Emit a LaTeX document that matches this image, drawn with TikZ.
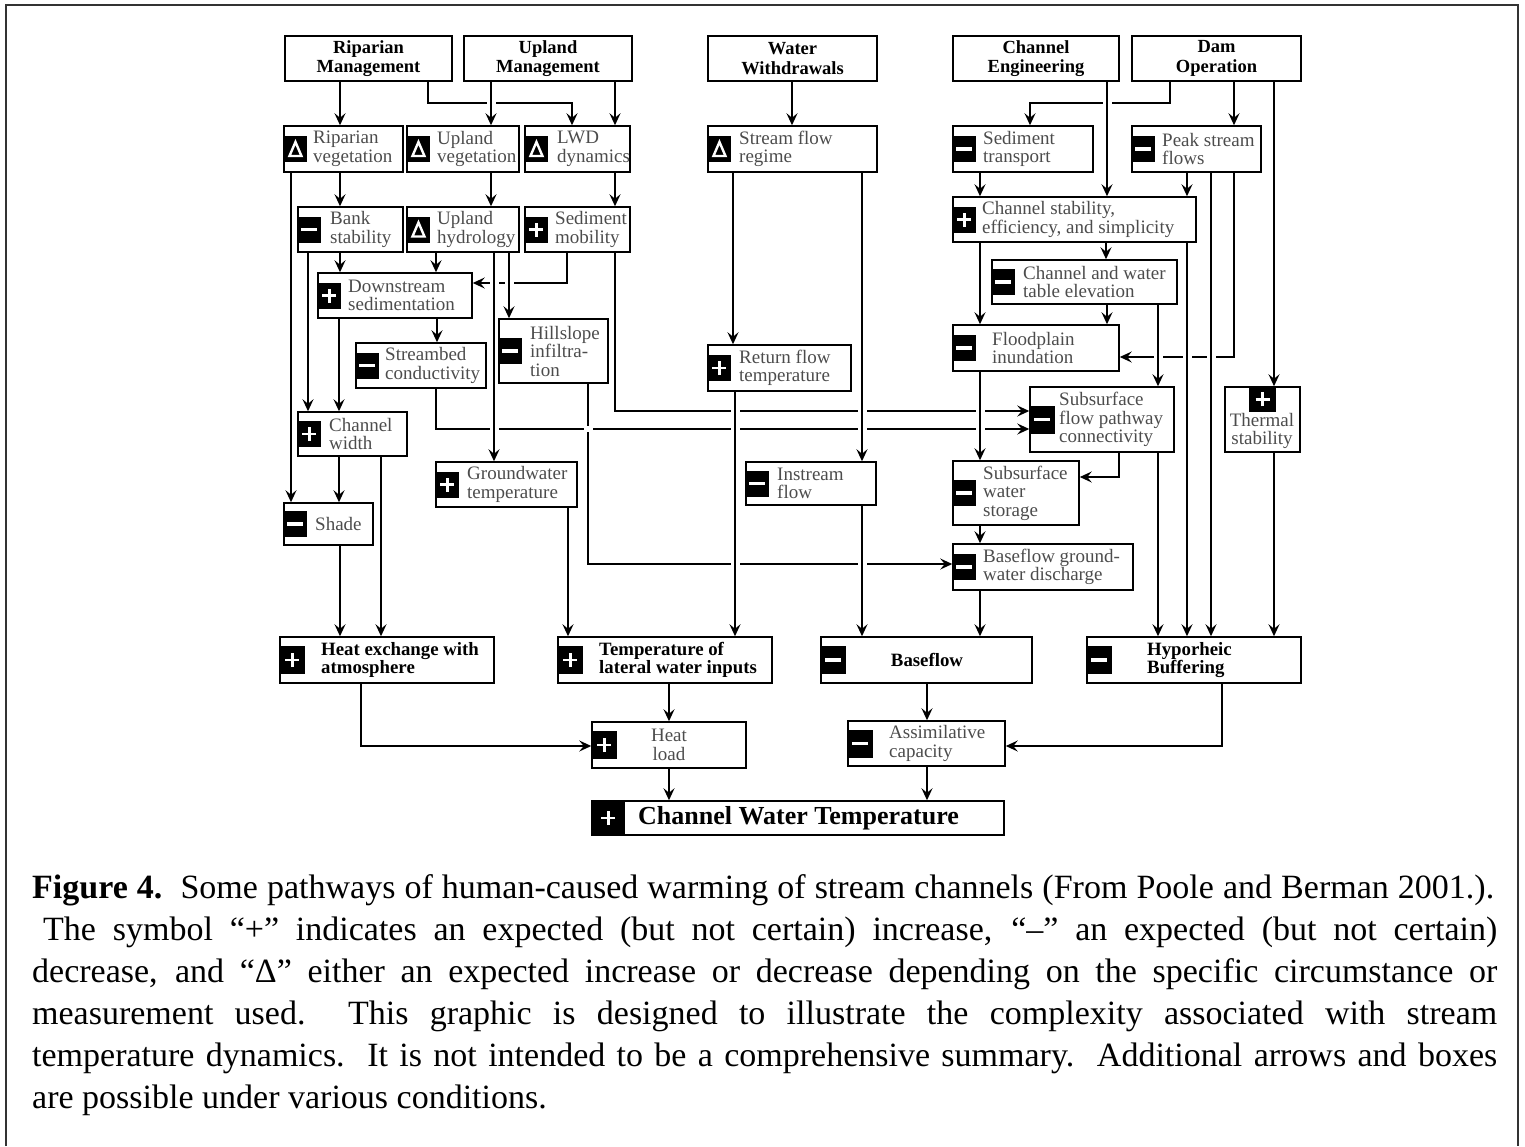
\documentclass[tikz,border=0pt]{standalone}
\usepackage{fontspec}
\setmainfont{Liberation Serif}
\usetikzlibrary{arrows.meta,fit}
\newcommand\bx[5]{\node[box, fit={(#2,#3) (#4,#5)}] (#1) {};}
\newcommand\vconn[3]{\draw[arr] (#1.south -| #3,0) -- (#2.north -| #3,0);}
\newcommand\xgap[2]{\fill[white] ({#1-4.5},{#2-3.2}) rectangle ({#1+4.5},{#2+3.2});}
\tikzset{
  box/.style={draw, line width=1.5pt, inner sep=0pt, rectangle},
  arr/.style={line width=1.5pt, -{Stealth[length=12pt,width=11pt,inset=4.5pt]}},
  ttop/.style={font=\fontsize{18.5}{19.5}\selectfont\bfseries, align=center, inner sep=0pt},
  tmid/.style={font=\fontsize{19}{18.5}\selectfont, text=black!70, align=left, inner sep=0pt, anchor=west},
  tmidc/.style={font=\fontsize{19}{18.5}\selectfont, text=black!70, align=center, inner sep=0pt},
  tbot/.style={font=\fontsize{18.8}{17.5}\selectfont\bfseries, align=left, inner sep=0pt, anchor=west},
  captext/.style={font=\fontsize{34}{42}\selectfont, inner sep=0pt, anchor=base west},
  sgn/.style={fill=black, inner sep=0pt, minimum width=24pt, minimum height=26pt, anchor=west},
  big/.style={minimum width=26pt, minimum height=28pt},
  splus/.style={sgn, path picture={
    \draw[white, line width=2.4pt] ([xshift=-7pt]path picture bounding box.center) -- ([xshift=7pt]path picture bounding box.center);
    \draw[white, line width=2.4pt] ([yshift=-7pt]path picture bounding box.center) -- ([yshift=7pt]path picture bounding box.center);}},
  sminus/.style={sgn, path picture={
    \draw[white, line width=3.4pt] ([xshift=-8pt]path picture bounding box.center) -- ([xshift=8pt]path picture bounding box.center);}},
  sdelta/.style={sgn, path picture={
    \draw[white, line width=2.4pt, line join=miter] ([shift={(-6pt,-7pt)}]path picture bounding box.center) -- ([shift={(0pt,7pt)}]path picture bounding box.center) -- ([shift={(6pt,-7pt)}]path picture bounding box.center) -- cycle;}}
}
\begin{document}
\begin{tikzpicture}[x=1pt,y=-1pt]
\useasboundingbox (0,0) rectangle (1525,1146);
\draw[line width=2pt, black!80] (6,1146) -- (6,5) -- (1518,5) -- (1518,1146);
% boxes
\bx{rm}{285}{36}{452}{81}
\bx{um}{464}{36}{632}{81}
\bx{ww}{708}{36}{877}{81}
\bx{ce}{953}{36}{1119}{81}
\bx{do}{1132}{36}{1301}{81}
\bx{rv}{284}{126}{403}{172}
\bx{uv}{407}{126}{519}{172}
\bx{lwd}{525}{126}{630}{172}
\bx{sfr}{708}{126}{877}{172}
\bx{st}{953}{126}{1093}{172}
\bx{psf}{1132}{126}{1261}{172}
\bx{bs}{298}{207}{403}{252}
\bx{uh}{407}{207}{519}{252}
\bx{sm}{525}{207}{630}{252}
\bx{cs}{953}{197}{1196}{242}
\bx{ds}{318}{273}{472}{318}
\bx{hi}{499}{319}{608}{383}
\bx{sc}{356}{343}{486}{388}
\bx{cw}{298}{412}{407}{456}
\bx{gw}{436}{462}{577}{507}
\bx{sh}{284}{503}{373}{545}
\bx{rft}{708}{345}{851}{391}
\bx{inf}{746}{462}{876}{505}
\bx{cwe}{992}{260}{1177}{304}
\bx{fi}{953}{325}{1119}{371}
\bx{sfp}{1030}{387}{1174}{452}
\bx{ts}{1225}{387}{1300}{452}
\bx{sws}{953}{461}{1079}{525}
\bx{bgd}{953}{544}{1133}{590}
\bx{he}{280}{637}{494}{683}
\bx{tl}{558}{637}{772}{683}
\bx{bf}{821}{637}{1032}{683}
\bx{hb}{1087}{637}{1301}{683}
\bx{hl}{592}{722}{746}{768}
\bx{ac}{848}{721}{1005}{766}
\bx{cwt}{592}{801}{1004}{835}
% top texts
\node[ttop] (rm-t) at (rm.center) {Riparian\\Management};
\node[ttop] (um-t) at (um.center) {Upland\\Management};
\node[ttop] (ww-t) at (ww.center) {Water\\Withdrawals};
\node[ttop] (ce-t) at (ce.center) {Channel\\Engineering};
\node[ttop] (do-t) at (do.center) {Dam\\Operation};
% signs
\node[sdelta] (rv-s) at (rv.west) {};
\node[sdelta] (uv-s) at (uv.west) {};
\node[sdelta] (lwd-s) at (lwd.west) {};
\node[sdelta] (sfr-s) at (sfr.west) {};
\node[sminus] (st-s) at (st.west) {};
\node[sminus] (psf-s) at (psf.west) {};
\node[sminus] (bs-s) at (bs.west) {};
\node[sdelta] (uh-s) at (uh.west) {};
\node[splus] (sm-s) at (sm.west) {};
\node[splus] (cs-s) at (cs.west) {};
\node[splus] (ds-s) at (ds.west) {};
\node[sminus] (hi-s) at (hi.west) {};
\node[sminus] (sc-s) at (sc.west) {};
\node[splus] (cw-s) at (cw.west) {};
\node[splus] (gw-s) at (gw.west) {};
\node[sminus] (sh-s) at (sh.west) {};
\node[splus] (rft-s) at (rft.west) {};
\node[sminus] (inf-s) at (inf.west) {};
\node[sminus] (cwe-s) at (cwe.west) {};
\node[sminus] (fi-s) at (fi.west) {};
\node[sminus, big] (sfp-s) at (sfp.west) {};
\node[splus, minimum width=27pt, anchor=north] (ts-s) at (ts.north) {};
\node[sminus] (sws-s) at (sws.west) {};
\node[sminus] (bgd-s) at (bgd.west) {};
\node[splus, big] (he-s) at (he.west) {};
\node[splus, big] (tl-s) at (tl.west) {};
\node[sminus, big] (bf-s) at (bf.west) {};
\node[sminus, big] (hb-s) at (hb.west) {};
\node[splus, big] (hl-s) at (hl.west) {};
\node[sminus, big] (ac-s) at (ac.west) {};
\node[splus, minimum width=34pt, minimum height=34pt] (cwt-s) at (cwt.west) {};
% middle texts
\node[tmid] (rv-t) at (rv.west -| 313,0) {Riparian\\vegetation};
\node[tmid] (uv-t) at (uv.west -| 437,0) {Upland\\vegetation};
\node[tmid] (lwd-t) at (lwd.west -| 557,0) {LWD\\dynamics};
\node[tmid] (sfr-t) at (sfr.west -| 739,0) {Stream flow\\regime};
\node[tmid] (st-t) at (st.west -| 983,0) {Sediment\\transport};
\node[tmid] (psf-t) at (psf.west -| 1162,0) {Peak stream\\flows};
\node[tmid] (bs-t) at (bs.west -| 330,0) {Bank\\stability};
\node[tmid] (uh-t) at (uh.west -| 437,0) {Upland\\hydrology};
\node[tmid] (sm-t) at (sm.west -| 555,0) {Sediment\\mobility};
\node[tmid] (cs-t) at (cs.west -| 982,0) {Channel stability,\\efficiency, and simplicity};
\node[tmid] (ds-t) at (ds.west -| 348,0) {Downstream\\sedimentation};
\node[tmid] (hi-t) at (hi.west -| 530,0) {Hillslope\\infiltra-\\tion};
\node[tmid] (sc-t) at (sc.west -| 385,0) {Streambed\\conductivity};
\node[tmid] (cw-t) at (cw.west -| 329,0) {Channel\\width};
\node[tmid] (gw-t) at (gw.west -| 467,0) {Groundwater\\temperature};
\node[tmid] (sh-t) at (sh.west -| 315,0) {Shade};
\node[tmid] (rft-t) at (rft.west -| 739,0) {Return flow\\temperature};
\node[tmid] (inf-t) at (inf.west -| 777,0) {Instream\\flow};
\node[tmid] (cwe-t) at (cwe.west -| 1023,0) {Channel and water\\table elevation};
\node[tmid] (fi-t) at (fi.west -| 992,0) {Floodplain\\inundation};
\node[tmid] (sfp-t) at (sfp.west -| 1059,0) {Subsurface\\flow pathway\\connectivity};
\node[tmidc] (ts-t) at (1262,431) {Thermal\\stability};
\node[tmid] (sws-t) at (sws.west -| 983,0) {Subsurface\\water\\storage};
\node[tmid] (bgd-t) at (bgd.west -| 983,0) {Baseflow ground-\\water discharge};
% bottom texts
\node[tbot] (he-t) at (he.west -| 321,0) {Heat exchange with\\atmosphere};
\node[tbot] (tl-t) at (tl.west -| 599,0) {Temperature of\\lateral water inputs};
\node[tbot, anchor=center] (bf-t) at (bf.center -| 927,0) {Baseflow};
\node[tbot] (hb-t) at (hb.west -| 1147,0) {Hyporheic\\Buffering};
\node[tmidc] (hl-t) at (hl.center -| 669,0) {Heat\\load};
\node[tmid] (ac-t) at (ac.west -| 889,0) {Assimilative\\capacity};
\node[font=\fontsize{26}{28}\selectfont\bfseries, inner sep=0pt, anchor=west] (cwt-t) at (cwt.west -| 638,0) {Channel Water Temperature};
% elbow connectors (horizontal parts)
\draw[arr] (rm.south -| 428,0) |- (572,103) -- (lwd.north -| 572,0);
\draw[arr] (do.south -| 1170,0) |- (1030,103) -- (st.north -| 1030,0);
\draw[arr] (psf.south -| 1234,0) |- (fi.east |- 0,357);
\draw[arr] (sm.south -| 567,0) |- (ds.east |- 0,283);
\draw[arr] (sm.south -| 615,0) |- (sfp.west |- 0,411);
\draw[arr] (sc.south -| 436,0) |- (sfp.west |- 0,429);
\draw[arr] (hi.south -| 588,0) |- (bgd.west |- 0,564);
\draw[arr] (sfp.south -| 1119,0) |- (sws.east |- 0,477);
\draw[arr] (he.south -| 361,0) |- (hl.west |- 0,746);
\draw[arr] (hb.south -| 1222,0) |- (ac.east |- 0,746);
% gaps at crossings
\xgap{491}{103}
\xgap{1107}{103}
\xgap{494}{283}
\xgap{509}{283}
\xgap{735}{411}
\xgap{862}{411}
\xgap{980}{411}
\xgap{494}{429}
\xgap{588}{429}
\xgap{735}{429}
\xgap{862}{429}
\xgap{980}{429}
\xgap{735}{564}
\xgap{862}{564}
\xgap{1158}{357}
\xgap{1187}{357}
\xgap{1211}{357}
% vertical connectors
\vconn{rm}{rv}{340}
\vconn{um}{uv}{491}
\vconn{um}{lwd}{615}
\vconn{ww}{sfr}{792}
\vconn{ce}{cs}{1107}
\vconn{do}{psf}{1234}
\vconn{do}{ts}{1274}
\vconn{rv}{bs}{340}
\vconn{rv}{sh}{291}
\vconn{uv}{uh}{491}
\vconn{lwd}{sm}{615}
\vconn{sfr}{rft}{733}
\vconn{sfr}{inf}{862}
\vconn{st}{cs}{980}
\vconn{psf}{cs}{1187}
\vconn{psf}{hb}{1211}
\vconn{bs}{ds}{340}
\vconn{bs}{cw}{308}
\vconn{uh}{ds}{436}
\vconn{uh}{gw}{494}
\vconn{uh}{hi}{509}
\vconn{cs}{cwe}{1106}
\vconn{cs}{fi}{980}
\vconn{cs}{hb}{1187}
\vconn{ds}{sc}{437}
\vconn{ds}{cw}{339}
\vconn{cw}{sh}{339}
\vconn{cw}{he}{381}
\vconn{sh}{he}{340}
\vconn{gw}{tl}{568}
\vconn{rft}{tl}{735}
\vconn{inf}{bf}{862}
\vconn{cwe}{fi}{1107}
\vconn{cwe}{sfp}{1158}
\vconn{fi}{sws}{980}
\vconn{sfp}{hb}{1158}
\vconn{ts}{hb}{1274}
\vconn{sws}{bgd}{980}
\vconn{bgd}{bf}{980}
\vconn{tl}{hl}{669}
\vconn{hl}{cwt}{669}
\vconn{bf}{ac}{927}
\vconn{ac}{cwt}{927}
% caption
\node[captext] (cap1) at (32,898) {\makebox[1462pt][s]{\textbf{Figure 4.}\ \ Some pathways of human-caused warming of stream channels (From Poole and Berman 2001.).}};
\node[captext] (cap2) at (43,940) {\makebox[1454pt][s]{The symbol “+” indicates an expected (but not certain) increase, “–” an expected (but not certain)}};
\node[captext] (cap3) at (32,982) {\makebox[1465pt][s]{decrease, and “Δ” either an expected increase or decrease depending on the specific circumstance or}};
\node[captext] (cap4) at (32,1024) {\makebox[1465pt][s]{measurement used.\ \ This graphic is designed to illustrate the complexity associated with stream}};
\node[captext] (cap5) at (32,1066) {\makebox[1465pt][s]{temperature dynamics.\ \ It is not intended to be a comprehensive summary.\ \ Additional arrows and boxes}};
\node[captext] (cap6) at (32,1108) {are possible under various conditions.};
\end{tikzpicture}
\end{document}
